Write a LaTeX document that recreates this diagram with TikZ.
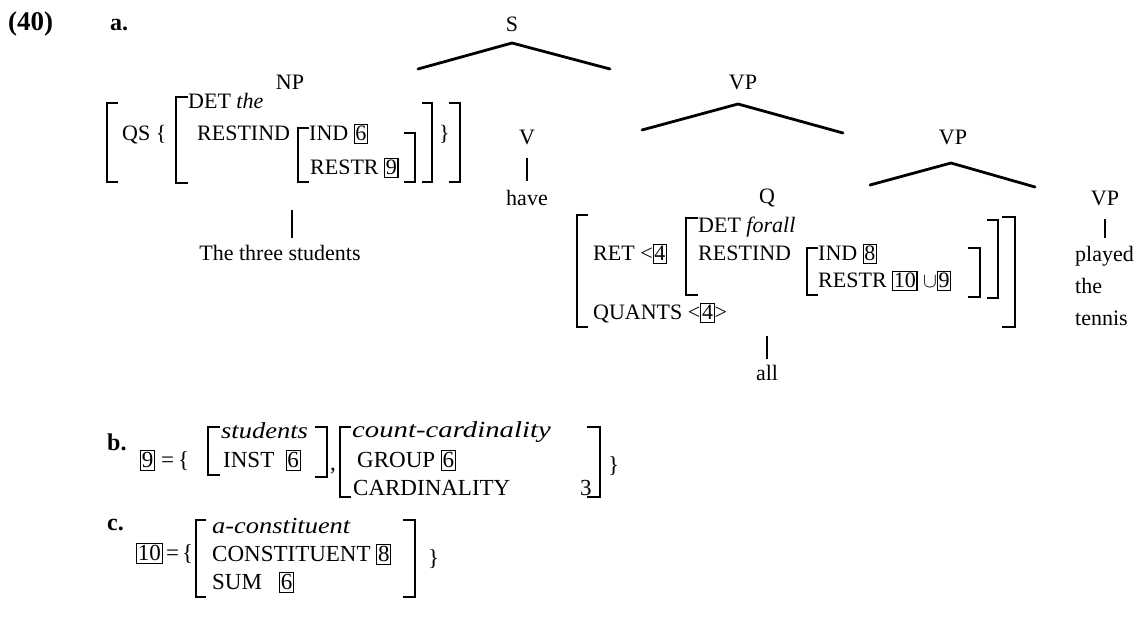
\documentclass[tikz,border=0pt]{standalone}
\usepackage{fontspec}
\setmainfont{Liberation Serif}
\newcommand\fs{\fontsize{22}{26}\selectfont}
\newcommand\fsb{\fontsize{23}{27}\selectfont}
\newcommand\bx[1]{{\setlength\fboxsep{0.6pt}\setlength\fboxrule{1.1pt}\fbox{\rule[-2pt]{0pt}{16pt}#1}}}
\newcommand\avmL[4]{\draw[brk] ({#1+#4},#2) -- (#1,#2) -- (#1,#3) -- ({#1+#4},#3);}
\newcommand\avmR[4]{\draw[brk] ({#1-#4},#2) -- (#1,#2) -- (#1,#3) -- ({#1-#4},#3);}
\begin{document}
\begin{tikzpicture}[x=1pt,y=-1pt,
  lbl/.style={inner sep=0pt,font=\fs},
  txt/.style={inner sep=0pt,anchor=base west,font=\fs},
  txtb/.style={inner sep=0pt,anchor=base west,font=\fsb},
  num/.style={inner sep=0pt,anchor=base west,font=\fontsize{24}{28}\selectfont\bfseries},
  brk/.style={line width=1.8pt},
  tree/.style={line width=2.8pt,line cap=round},
  stem/.style={line width=2pt}]
\fill[white] (0,0) rectangle (1140,632);
\useasboundingbox (0,0) rectangle (1140,632);

% labels
\node[num,font=\fontsize{27}{30}\selectfont\bfseries] (ex) at (8,30) {(40)};
\node[num] (la) at (110,30) {a.};

% S
\node[lbl] (S) at (512,24) {S};
\coordinate (Sa) at (512,43);
\coordinate (Sl) at (418,69);
\coordinate (Sr) at (610,69);
\draw[tree] (Sl) -- (Sa) -- (Sr);

% NP
\node[lbl] (NP) at (290,82) {NP};
\avmL{107}{103}{182}{11}
\node[txt] (qs) at (122,140) {QS \{};
\avmL{176}{97}{183}{12}
\node[txt] (det1) at (188,108) {DET \textit{the}};
\node[txt] (ri1) at (197,140) {RESTIND};
\avmL{298}{128}{182}{11}
\node[txt] (ind1) at (309,140) {IND \bx{6}};
\node[txt] (rs1) at (310,174) {RESTR \bx{9}};
\avmR{415}{133}{182}{11}
\avmR{432}{103}{182}{10}
\node[txt] (cb1) at (439,140) {\}};
\avmR{460}{103}{182}{11}
\coordinate (npb) at (292,210);
\node[lbl] (stud) at (280,253) {The three students};
\draw[stem] (npb) -- ([yshift=7pt]npb |- stud.north);

% VP1
\node[lbl] (VP1) at (743,82) {VP};
\coordinate (v1a) at (738,104);
\coordinate (v1l) at (642,130);
\coordinate (v1r) at (843,133);
\draw[tree] (v1l) -- (v1a) -- (v1r);

% V
\node[lbl] (V) at (527,137) {V};
\node[lbl] (have) at (527,198) {have};
\draw[stem,shorten <=13pt,shorten >=9pt] (V.south) -- (have.north);

% VP2
\node[lbl] (VP2) at (953,137) {VP};
\coordinate (v2a) at (951,163);
\coordinate (v2l) at (870,185);
\coordinate (v2r) at (1035,187);
\draw[tree] (v2l) -- (v2a) -- (v2r);

% Q
\node[lbl] (Q) at (767,198) {Q};
\avmL{577}{215}{327}{11}
\node[txt] (ret) at (593,260) {RET \textless\bx{4}};
\avmL{686}{218}{295}{12}
\node[txt] (det2) at (698,232) {DET \textit{forall}};
\node[txt] (ri2) at (698,260) {RESTIND};
\avmL{807}{248}{295}{11}
\node[txt] (ind2) at (818,260) {IND \bx{8}};
\node[txt] (rs2) at (818,287) {RESTR \bx{10} $\cup$\bx{9}};
\avmR{980}{248}{297}{12}
\avmR{998}{220}{298}{11}
\avmR{1015}{217}{327}{13}
\node[txt] (qu) at (593,319) {QUANTS \textless\bx{4}\textgreater};
\coordinate (qb) at (767,336);
\node[lbl] (all) at (767,373) {all};
\draw[stem,shorten >=6pt] (qb) -- (qb |- all.north);

% VP3
\node[lbl] (VP3) at (1105,198) {VP};
\node[txt] (pl) at (1075,261) {played};
\node[txt] (the) at (1075,293) {the};
\node[txt] (ten) at (1075,325) {tennis};
\draw[stem,shorten <=13pt,shorten >=8pt] (VP3.south) -- (VP3.south |- pl.north);

% b
\node[num] (lb) at (107,450) {b.};
\node[txtb] (b9) at (140,467) {\bx{9}};
\node[txtb] (beq) at (161,467) {=};
\node[txtb] (bbr) at (178,467) {\{};
\avmL{208}{427}{475}{12}
\node[txtb] (stu) at (221,438) {\scalebox{1.15}[1]{\textit{students}}};
\node[txtb] (inst) at (223,467) {INST~~\bx{6}};
\avmR{327}{427}{477}{12}
\node[txtb] (comma) at (330,470) {,};
\avmL{340}{427}{497}{11}
\node[txtb] (cc) at (352,437) {\scalebox{1.25}[1]{\textit{count-cardinality}}};
\node[txtb] (grp) at (357,467) {GROUP \bx{6}};
\node[txtb] (card) at (353,495) {CARDINALITY};
\node[txtb] (three) at (580,495) {3};
\avmR{600}{427}{497}{13}
\node[txtb] (cb2) at (608,472) {\}};

% c
\node[num] (lc) at (107,530) {c.};
\node[txtb] (c10) at (136,560) {\bx{10}};
\node[txtb] (ceq) at (166,560) {=};
\node[txtb] (cbr) at (182,560) {\{};
\avmL{196}{520}{597}{10}
\node[txtb] (acon) at (212,533) {\scalebox{1.15}[1]{\textit{a-constituent}}};
\node[txtb] (cons) at (212,561) {CONSTITUENT \bx{8}};
\node[txtb] (sum) at (212,589) {SUM~~~\bx{6}};
\avmR{415}{520}{597}{12}
\node[txtb] (cb3) at (428,565) {\}};
\end{tikzpicture}
\end{document}
